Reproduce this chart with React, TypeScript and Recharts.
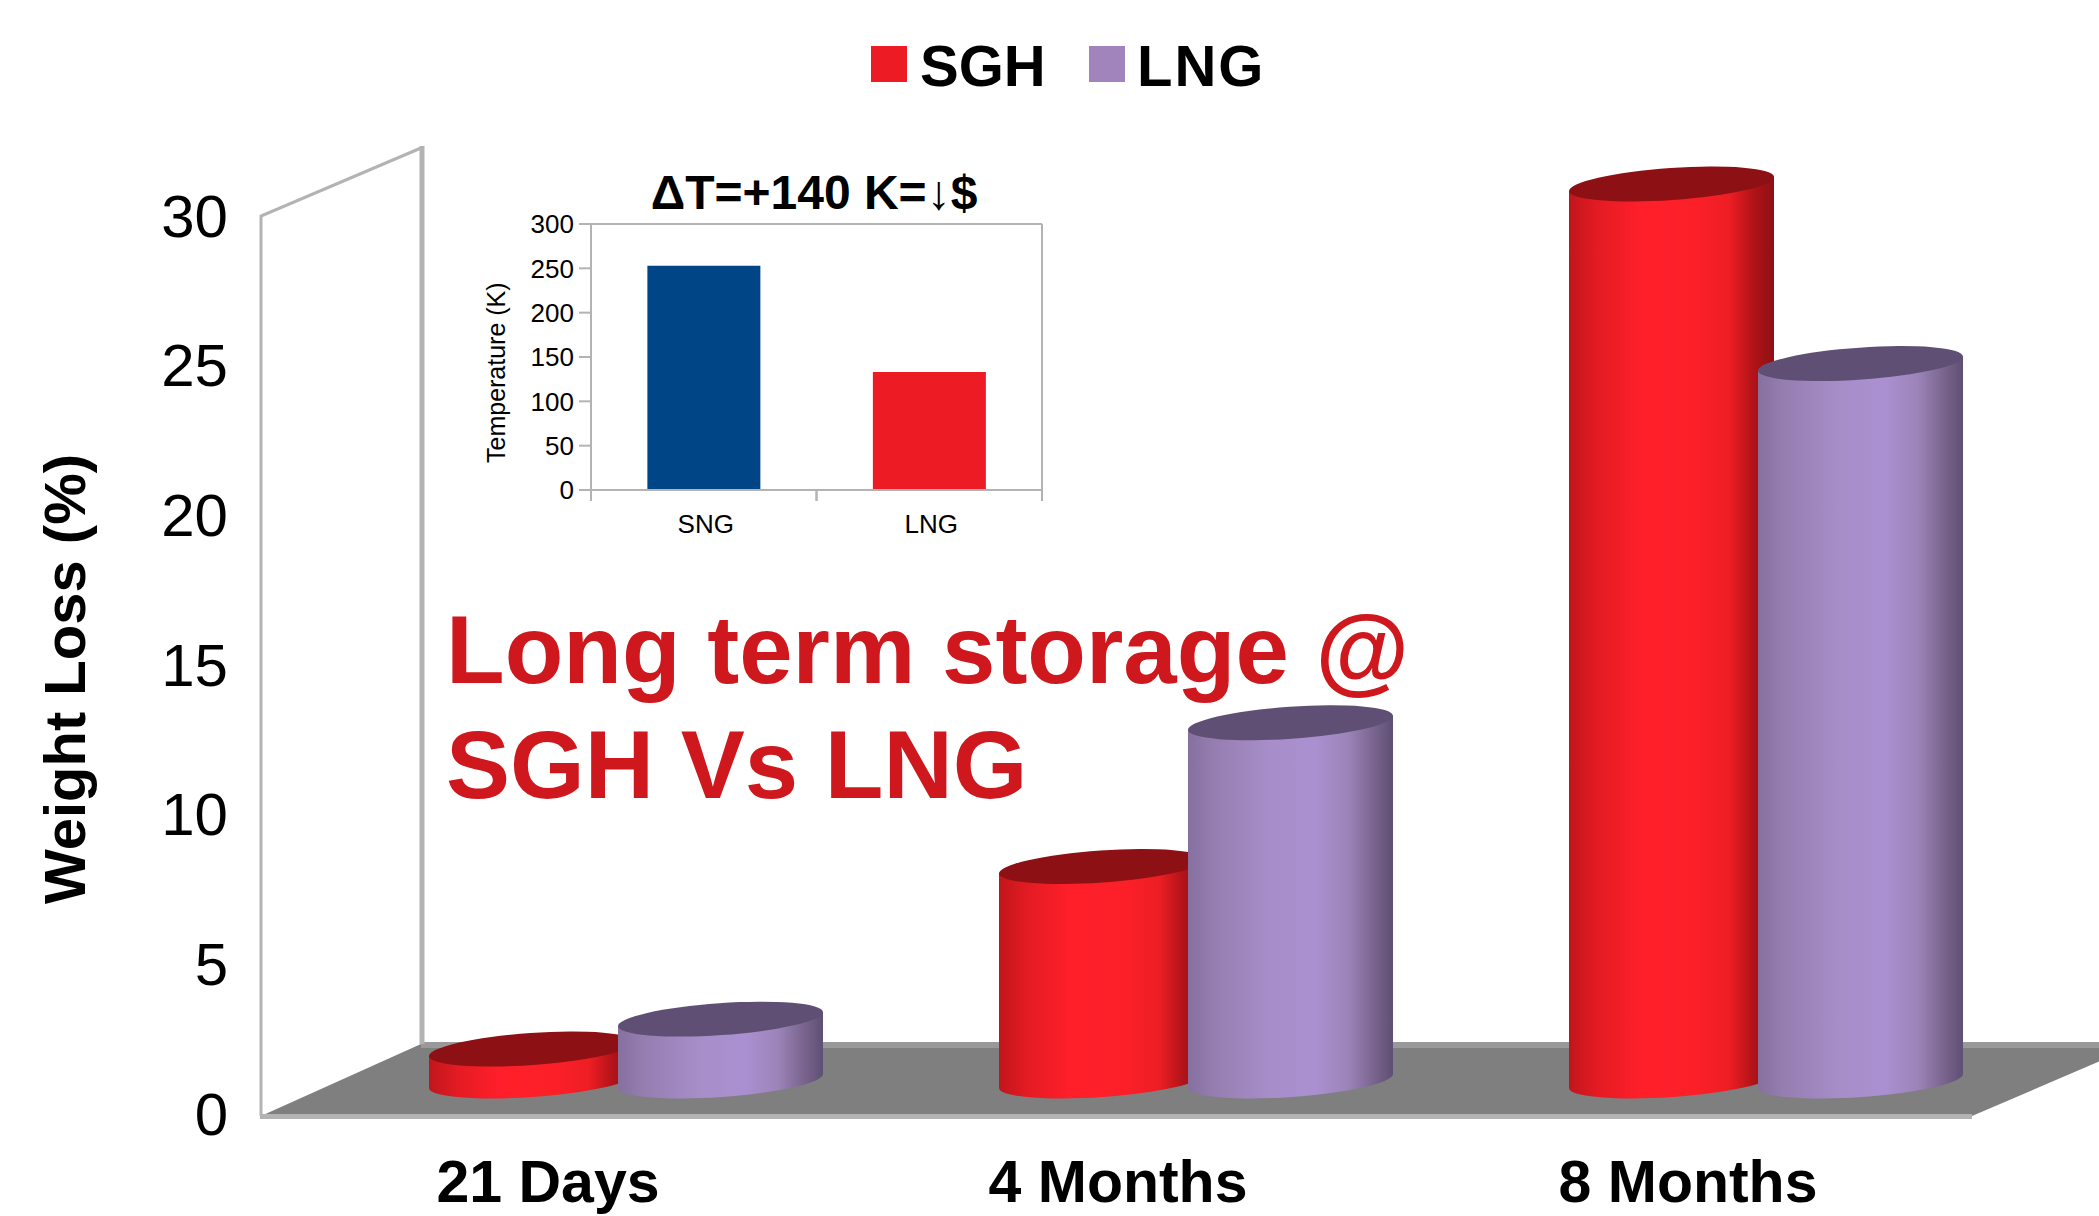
import { Bar, BarChart, CartesianGrid, Legend, XAxis, YAxis } from "recharts";

const periods = ["21 Days", "4 Months", "8 Months"];
const sghLoss = [1, 7.1, 29.9];
const lngLoss = [2, 11.9, 23.9];
const lossTicks = [0, 5, 10, 15, 20, 25, 30];

const insetLabels = ["SNG", "LNG"];
const insetTemps = [253, 133];
const insetColors = ["#004586", "#ed1c24"];
const insetTicks = [0, 50, 100, 150, 200, 250, 300];

const FONT = '"Liberation Sans", Arial, sans-serif';
const GRAY = "#b3b3b3";
const TILT = 4;

const lossData = periods.map((period, i) => ({
  period,
  SGH: sghLoss[i],
  LNG: lngLoss[i],
}));

const insetData = insetLabels.map((label, i) => ({
  label,
  temp: insetTemps[i],
  fill: insetColors[i],
}));

function Backdrop() {
  return (
    <g>
      <polygon points="261,1116 261,216 421,147 421,1044" fill="#fff" stroke="none" />
      <polygon points="261,1116 421,1044 2140,1044 1972,1116" fill="#7f7f7f" />
      <rect x={421} y={1042} width={1678} height={6} fill="#999999" />
      <path d="M261 1116 L261 216 L421 148" fill="none" stroke={GRAY} strokeWidth={3} />
      <line x1={422} y1={146} x2={422} y2={1044} stroke={GRAY} strokeWidth={5} />
      <rect x={260} y={1114} width={1712} height={5} fill={GRAY} />
    </g>
  );
}

function Gradients() {
  return (
    <defs>
      <linearGradient id="sghBody" x1="0" y1="0" x2="1" y2="0">
        <stop offset="0" stopColor="#c0161c" />
        <stop offset="0.14" stopColor="#e41b23" />
        <stop offset="0.35" stopColor="#ff1f2a" />
        <stop offset="0.62" stopColor="#fc1f28" />
        <stop offset="0.78" stopColor="#ed1e24" />
        <stop offset="0.9" stopColor="#b01318" />
        <stop offset="1" stopColor="#8d1014" />
      </linearGradient>
      <linearGradient id="lngBody" x1="0" y1="0" x2="1" y2="0">
        <stop offset="0" stopColor="#85709f" />
        <stop offset="0.12" stopColor="#957db0" />
        <stop offset="0.4" stopColor="#a78ec9" />
        <stop offset="0.62" stopColor="#aa90d0" />
        <stop offset="0.78" stopColor="#9c84b9" />
        <stop offset="0.9" stopColor="#7b6690" />
        <stop offset="1" stopColor="#5f4f74" />
      </linearGradient>
    </defs>
  );
}

function Cylinder({ x, y, width, height, bodyId, capColor }: any) {
  const cx = x + width / 2;
  const bottom = y + height + 2;
  const rad = (TILT * Math.PI) / 180;
  const rise = (width / 2) * Math.tan(rad);
  const rx = width / 2 / Math.cos(rad);
  const ry = width * 0.078;
  const body = `M${x} ${y + rise} L${x} ${bottom + rise} A${rx} ${ry} ${-TILT} 0 0 ${x + width} ${bottom - rise} L${x + width} ${y - rise} Z`;
  return (
    <g>
      <path d={body} fill={`url(#${bodyId})`} />
      <ellipse
        cx={cx}
        cy={y}
        rx={rx}
        ry={ry}
        fill={capColor}
        transform={`rotate(${-TILT} ${cx} ${y})`}
      />
    </g>
  );
}

function LossTick({ x, y, payload }: any) {
  return (
    <text x={x - 105} y={y + 35} textAnchor="end" dominantBaseline="central" fontFamily={FONT} fontSize={60} fill="#000">
      {payload.value}
    </text>
  );
}

function PeriodTick({ x, y, payload }: any) {
  return (
    <text x={x - 78} y={y + 115} textAnchor="middle" fontFamily={FONT} fontSize={59} fontWeight="bold" fill="#000">
      {payload.value}
    </text>
  );
}

function LegendRow() {
  const items = [
    { name: "SGH", color: "#ed1c24", left: 0, textLeft: 49, spacing: 0 },
    { name: "LNG", color: "#a084bb", left: 218, textLeft: 266, spacing: 2 },
  ];
  return (
    <div style={{ position: "relative", width: 400, height: 70, fontFamily: FONT, fontWeight: "bold", fontSize: 58, lineHeight: "70px" }}>
      {items.map((it) => (
        <div key={it.name}>
          <div style={{ position: "absolute", left: it.left, top: 14, width: 36, height: 36, background: it.color }} />
          <div style={{ position: "absolute", left: it.textLeft, top: -1, color: "#000", letterSpacing: it.spacing }}>{it.name}</div>
        </div>
      ))}
    </div>
  );
}

function InsetPeriodTick({ x, y, payload }: any) {
  const half = 112.75;
  return (
    <g>
      <line x1={x - half} y1={y - 8} x2={x - half} y2={y + 3} stroke={GRAY} strokeWidth={2} />
      <line x1={x + half} y1={y - 8} x2={x + half} y2={y + 3} stroke={GRAY} strokeWidth={2} />
      <text x={x + 2} y={y + 35} textAnchor="middle" fontFamily={FONT} fontSize={26} fill="#000">
        {payload.value}
      </text>
    </g>
  );
}

function Inset() {
  return (
    <div style={{ position: "absolute", left: 481, top: 160, width: 600, height: 400 }}>
      <BarChart
        width={600}
        height={400}
        data={insetData}
        margin={{ top: 64, right: 39, bottom: 30, left: 30 }}
        barCategoryGap="25%"
      >
        <CartesianGrid
          stroke={GRAY}
          strokeWidth={2}
          horizontalCoordinatesGenerator={({ offset }: any) => [offset.top]}
          verticalCoordinatesGenerator={({ offset }: any) => [offset.left + offset.width]}
        />
        <XAxis
          dataKey="label"
          height={40}
          interval={0}
          axisLine={{ stroke: GRAY, strokeWidth: 2 }}
          tickLine={false}
          tick={<InsetPeriodTick />}
        />
        <YAxis
          width={80}
          domain={[0, 300]}
          ticks={insetTicks}
          interval={0}
          axisLine={{ stroke: GRAY, strokeWidth: 2 }}
          tickLine={{ stroke: GRAY, strokeWidth: 2 }}
          tickSize={12}
          tickMargin={5}
          tick={{ fontFamily: FONT, fontSize: 26, fill: "#000" }}
          label={{
            value: "Temperature (K)",
            angle: -90,
            position: "insideLeft",
            offset: 0,
            dx: -15,
            dy: 106,
            style: { fontFamily: FONT, fontSize: 25, fill: "#000" },
          }}
        />
        <Bar dataKey="temp" isAnimationActive={false} />
        <text x={333} y={49} textAnchor="middle" fontFamily={FONT} fontWeight="bold" fontSize={48} fill="#000">
          ΔT=+140 K=↓$
        </text>
      </BarChart>
    </div>
  );
}

export default function App() {
  return (
    <div style={{ position: "absolute", left: 0, top: 0, width: 2099, height: 1216, background: "#fff", overflow: "hidden" }}>
      <BarChart
        width={2099}
        height={1216}
        data={lossData}
        margin={{ top: 181, right: 48, bottom: 77, left: 241 }}
        barSize={205}
        barGap={-16}
      >
        <Gradients />
        <Backdrop />
        <XAxis dataKey="period" height={60} interval={0} axisLine={false} tickLine={false} tick={<PeriodTick />} />
        <YAxis
          width={100}
          domain={[0, 30]}
          ticks={lossTicks}
          interval={0}
          axisLine={false}
          tickLine={false}
          tick={<LossTick />}
        />
        <text
          transform="translate(85 679) rotate(-90)"
          textAnchor="middle"
          fontFamily={FONT}
          fontWeight="bold"
          fontSize={58}
          fill="#000"
        >
          Weight Loss (%)
        </text>
        <Legend
          layout="horizontal"
          verticalAlign="middle"
          align="center"
          wrapperStyle={{ left: 871, top: 32, width: 400, height: 70 }}
          content={<LegendRow />}
        />
        <Bar
          dataKey="SGH"
          isAnimationActive={false}
          fill="#ed1c24"
          shape={(p: any) => <Cylinder {...p} bodyId="sghBody" capColor="#8d1014" />}
        />
        <Bar
          dataKey="LNG"
          isAnimationActive={false}
          fill="#a084bb"
          shape={(p: any) => <Cylinder {...p} bodyId="lngBody" capColor="#604f74" />}
        />
        <text fontFamily={FONT} fontWeight="bold" fontSize={96} fill="#ce181e">
          <tspan x={446} y={683}>Long term storage @</tspan>
          <tspan x={446} y={798}>SGH Vs LNG</tspan>
        </text>
      </BarChart>
      <Inset />
    </div>
  );
}
